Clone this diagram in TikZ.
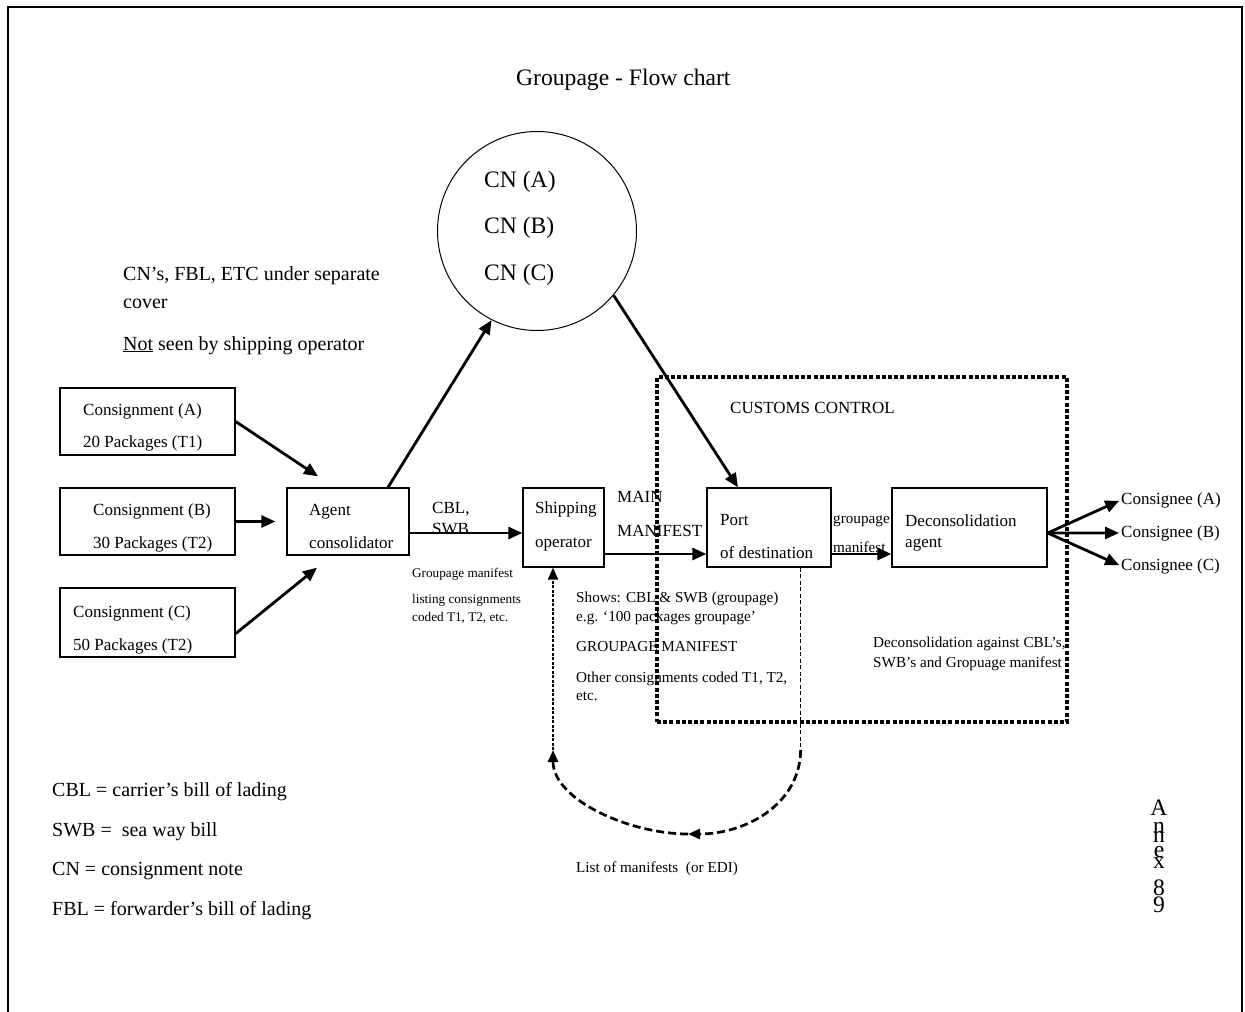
\documentclass[tikz,border=0pt]{standalone}
\usepackage{fontspec}
\setmainfont{Liberation Serif}
\usetikzlibrary{arrows.meta, calc}

\begin{document}
\begin{tikzpicture}[x=1pt, y=-1pt,
        box/.style={draw, line width=1.3pt, inner sep=0pt},
        arr/.style={line width=2.8pt, -{Triangle[length=14pt, width=12pt]}},
        dtip/.style={-{Triangle[length=12pt, width=10pt]}},
        txtbig/.style={font=\fontsize{23.6}{28}\selectfont, inner sep=0pt, anchor=base west},
        txtmid/.style={font=\fontsize{20}{24}\selectfont, inner sep=0pt, anchor=base west},
        txtbox/.style={font=\fontsize{17}{20}\selectfont, inner sep=0pt, anchor=base west},
        txtsml/.style={font=\fontsize{15.2}{18}\selectfont, inner sep=0pt, anchor=base west},
        txttiny/.style={font=\fontsize{13.2}{16}\selectfont, inner sep=0pt, anchor=base west}]
            \useasboundingbox (0,0) rectangle (1245,1012);
            \draw[line width=2.2pt] (8,1020) -- (8,7) -- (1242,7) -- (1242,1020);
            \node[txtbig] (title) at (516,85) {Groupage - Flow chart};
            \node[draw, circle, line width=1pt, minimum size=199pt, inner sep=0pt] (cn) at (537,231) {};
            \node[txtbig] (cnA) at (484,187) {CN (A)};
            \node[txtbig] (cnB) at (484,233) {CN (B)};
            \node[txtbig] (cnC) at (484,280) {CN (C)};
            \node[txtmid] (sep1) at (123,280) {CN’s, FBL, ETC under separate};
            \node[txtmid] (sep2) at (123,308) {cover};
            \node[txtmid] (sep3) at (123,350) {\underline{Not} seen by shipping operator};
            \node[box, minimum width=175pt, minimum height=67pt] (consA) at (147.5,421.5) {};
            \node[box, minimum width=175pt, minimum height=67pt] (consB) at (147.5,521.5) {};
            \node[box, minimum width=175pt, minimum height=69pt] (consC) at (147.5,622.5) {};
            \node[box, minimum width=122pt, minimum height=67pt] (agent) at (348,521.5) {};
            \node[box, minimum width=81pt, minimum height=79pt] (ship) at (563.5,527.5) {};
            \node[box, minimum width=124pt, minimum height=79pt] (port) at (769,527.5) {};
            \node[box, minimum width=155pt, minimum height=79pt] (decon) at (969.5,527.5) {};
            \node[draw, line width=4.5pt, dash pattern=on 4pt off 2.2pt, minimum width=410pt, minimum height=345pt] (customs) at (862,549.5) {};
            \node[txtbox] (consA1) at (83,415) {Consignment (A)};
            \node[txtbox] (consA2) at (83,447) {20 Packages (T1)};
            \node[txtbox] (consB1) at (93,515) {Consignment (B)};
            \node[txtbox] (consB2) at (93,548) {30 Packages (T2)};
            \node[txtbox] (consC1) at (73,617) {Consignment (C)};
            \node[txtbox] (consC2) at (73,650) {50 Packages (T2)};
            \node[txtbox] (agent1) at (309,515) {Agent};
            \node[txtbox] (agent2) at (309,548) {consolidator};
            \node[txtbox] (cbl1) at (432,513) {CBL,};
            \node[txtbox] (cbl2) at (432,534) {SWB};
            \node[txttiny] (gm1) at (412,577) {Groupage manifest};
            \node[txttiny] (gm2) at (412,603) {listing consignments};
            \node[txttiny] (gm3) at (412,621) {coded T1, T2, etc.};
            \node[txtbox] (ship1) at (535,513) {Shipping};
            \node[txtbox] (ship2) at (535,547) {operator};
            \node[txtbox] (main1) at (617,502) {MAIN};
            \node[txtbox] (main2) at (617,536) {MANIFEST};
            \node[txtbox] (port1) at (720,525) {Port};
            \node[txtbox] (port2) at (720,558) {of destination};
            \node[txtsml] (shows1) at (576,602) {Shows: CBL \& SWB (groupage)};
            \node[txtsml] (shows2) at (576,621) {e.g. ‘100 packages groupage’};
            \node[txtsml] (shows3) at (576,651) {GROUPAGE MANIFEST};
            \node[txtsml] (shows4) at (576,682) {Other consignments coded T1, T2,};
            \node[txtsml] (shows5) at (576,700) {etc.};
            \node[txtbox] (customs1) at (730,413) {CUSTOMS CONTROL};
            \node[txtsml] (gman1) at (833,523) {groupage};
            \node[txtsml] (gman2) at (833,552) {manifest};
            \node[txtbox] (decon1) at (905,526) {Deconsolidation};
            \node[txtbox] (decon2) at (905,547) {agent};
            \node[txtbox] (cgA) at (1121,504) {Consignee (A)};
            \node[txtbox] (cgB) at (1121,537) {Consignee (B)};
            \node[txtbox] (cgC) at (1121,570) {Consignee (C)};
            \node[txtsml] (against1) at (873,647) {Deconsolidation against CBL’s,};
            \node[txtsml] (against2) at (873,667) {SWB’s and Gropuage manifest};
            \node[txtsml] (edi) at (576,872) {List of manifests \ (or EDI)};
            \node[txtmid] (leg1) at (52,796) {CBL = carrier’s bill of lading};
            \node[txtmid] (leg2) at (52,836) {SWB = \ sea way bill};
            \node[txtmid] (leg3) at (52,875) {CN = consignment note};
            \node[txtmid] (leg4) at (52,915) {FBL = forwarder’s bill of lading};
            \foreach \ch/\yy [count=\i] in {A/815, n/833, n/842, e/857, x/868, 8/895, 9/912}
                \node[txtbig, anchor=base] (annex\i) at (1159,\yy) {\ch};
            \coordinate (cblY) at (0,533);
            \coordinate (mainY) at (0,554);
            \coordinate (ediY) at (0,750);
            \coordinate (ediTip) at (688,834);
            \coordinate (portOut) at ($(port.south east)+(-31,0)$);
            \coordinate (shipIn) at ($(ship.south)+(-10.5,0)$);
            \draw[arr] (consA.east) -- ($(agent.north)+(-30,-11)$);
            \draw[arr, shorten >=11pt] (consB.east) -- (agent.west);
            \draw[arr] ($(consC.south east)+(0,-24)$) -- ($(agent.south)+(-31,12)$);
            \draw[arr] ($(agent.north)+(40,0)$) -- (cn.243);
            \draw[arr] (cn.320) -- ($(port.north)+(-31,0)$);
            \draw[arr] (agent.east |- cblY) -- (ship.west |- cblY);
            \draw[arr] (ship.east |- mainY) -- (port.west |- mainY);
            \draw[arr] (port.east |- mainY) -- (decon.west |- mainY);
            \draw[arr, shorten >=2pt] (decon.east |- cblY) -- (cgA.west);
            \draw[arr, shorten >=2pt] (decon.east |- cblY) -- (cgB.west);
            \draw[arr, shorten >=2pt] (decon.east |- cblY) -- (cgC.west);
            \draw[line width=1.6pt, dash pattern=on 4pt off 2.5pt] (portOut) -- (portOut |- ediY);
            \draw[dtip, line width=2.7pt, dash pattern=on 8pt off 4pt] (portOut |- ediY) .. controls (800,805) and (745,834) .. (ediTip);
            \draw[dtip, line width=2.7pt, dash pattern=on 8pt off 4pt] (ediTip) .. controls (630,834) and (553,800) .. (shipIn |- ediY);
            \draw[dtip, line width=2.2pt, dash pattern=on 3pt off 1.5pt] (shipIn |- ediY) -- (shipIn);
        \end{tikzpicture}
\end{document}
